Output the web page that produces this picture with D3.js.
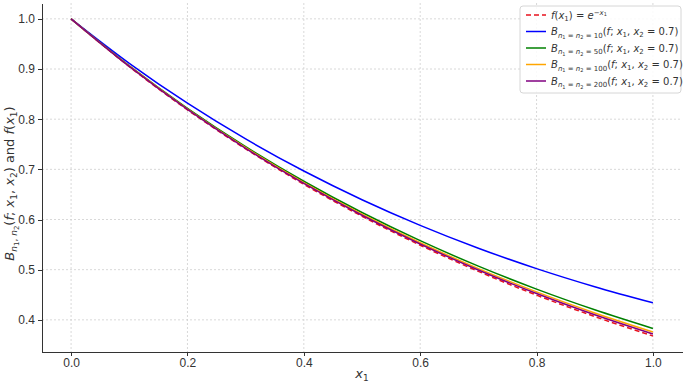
<!DOCTYPE html>
<html lang="en">
<head>
<meta charset="utf-8">
<title>Bernstein approximation</title>
<script src="https://cdn.jsdelivr.net/npm/d3@7"></script>
<style>
  body { margin: 0; background: #fff; }
  svg { font-family: "DejaVu Sans", sans-serif; }
  .axis path, .axis line { stroke: #333; shape-rendering: crispEdges; }
  .axis text { font-size: 12px; fill: #333; }
  .grid line { stroke: #cfcfcf; stroke-width: 0.8; stroke-dasharray: 2,2; }
</style>
</head>
<body>
<script>
// x1 sample points (read at 0.1 steps)
var xs = [0, 0.1, 0.2, 0.3, 0.4, 0.5, 0.6, 0.7, 0.8, 0.9, 1.0];

// curve values
var fExact = [1, 0.9048, 0.8187, 0.7408, 0.6703, 0.6065, 0.5488, 0.4966, 0.4493, 0.4066, 0.3679];
var bern10 = [1, 0.9114, 0.8319, 0.7606, 0.6967, 0.6395, 0.5884, 0.5428, 0.5021, 0.4660, 0.4339];
var bern50 = [1, 0.9063, 0.8217, 0.7453, 0.6763, 0.6140, 0.5578, 0.5071, 0.4613, 0.4201, 0.3829];
var bern100 = [1, 0.9056, 0.8203, 0.7432, 0.6735, 0.6105, 0.5536, 0.5022, 0.4557, 0.4138, 0.3759];
var bern200 = [1, 0.9052, 0.8195, 0.7420, 0.6719, 0.6085, 0.5512, 0.4994, 0.4525, 0.4102, 0.3719];

var xTicks = [0, 0.2, 0.4, 0.6, 0.8, 1.0];
var yTicks = [0.4, 0.5, 0.6, 0.7, 0.8, 0.9, 1.0];

var series = [
  {vals: fExact, color: "#e8121e", dash: "5,3", n: null},
  {vals: bern10, color: "#0000ff", dash: null, n: "10"},
  {vals: bern50, color: "#008000", dash: null, n: "50"},
  {vals: bern100, color: "#ffa500", dash: null, n: "100"},
  {vals: bern200, color: "#800080", dash: null, n: "200"}
];

var width = 685, height = 384;
var plotLeft = 42, plotRight = 682, plotTop = 3, plotBottom = 352;

var svg = d3.select("body").append("svg")
  .attr("width", width)
  .attr("height", height);

var xScale = d3.scaleLinear().domain([-0.05, 1.05]).range([plotLeft, plotRight]);
var yScale = d3.scaleLinear().domain([0.3359, 1.0316]).range([plotBottom, plotTop]);

// grid
svg.append("g").attr("class", "grid")
  .selectAll("line").data(xTicks).enter().append("line")
  .attr("x1", function(d) { return xScale(d); })
  .attr("x2", function(d) { return xScale(d); })
  .attr("y1", plotTop).attr("y2", plotBottom);
svg.append("g").attr("class", "grid")
  .selectAll("line").data(yTicks).enter().append("line")
  .attr("x1", plotLeft).attr("x2", plotRight)
  .attr("y1", function(d) { return yScale(d); })
  .attr("y2", function(d) { return yScale(d); });

// axes
var xAxis = d3.axisBottom(xScale).tickValues(xTicks).tickFormat(d3.format(".1f"))
  .tickSize(4).tickPadding(2).tickSizeOuter(0);
var yAxis = d3.axisLeft(yScale).tickValues(yTicks).tickFormat(d3.format(".1f"))
  .tickSize(4).tickPadding(3).tickSizeOuter(0);

svg.append("g").attr("class", "axis")
  .attr("transform", "translate(0," + plotBottom + ")")
  .call(xAxis);
svg.append("g").attr("class", "axis")
  .attr("transform", "translate(" + plotLeft + ",0)")
  .call(yAxis);
svg.selectAll(".axis .domain").attr("stroke-width", 1.2);

// lines
var line = d3.line()
  .x(function(d, i) { return xScale(xs[i]); })
  .y(function(d) { return yScale(d); })
  .curve(d3.curveMonotoneX);

svg.append("g").selectAll("path").data(series).enter().append("path")
  .attr("d", function(s) { return line(s.vals); })
  .attr("fill", "none")
  .attr("stroke", function(s) { return s.color; })
  .attr("stroke-width", 1.5)
  .attr("stroke-dasharray", function(s) { return s.dash; });

// axis labels
var xl = svg.append("text")
  .attr("x", xScale(0.5)).attr("y", 378)
  .attr("text-anchor", "middle")
  .attr("font-size", 13).attr("fill", "#333");
xl.append("tspan").attr("font-style", "italic").text("x");
xl.append("tspan").attr("font-size", 9).attr("dy", 3).text("1");

var yl = svg.append("text")
  .attr("transform", "translate(14," + ((plotTop + plotBottom) / 2 + 6) + ") rotate(-90)")
  .attr("text-anchor", "middle")
  .attr("font-size", 13).attr("fill", "#333");
yl.append("tspan").attr("font-style", "italic").text("B");
yl.append("tspan").attr("font-size", 9).attr("font-style", "italic").attr("dy", 3).text("n");
yl.append("tspan").attr("font-size", 7).attr("dy", 2).text("1");
yl.append("tspan").attr("font-size", 9).attr("dy", -2).text(", ");
yl.append("tspan").attr("font-size", 9).attr("font-style", "italic").text("n");
yl.append("tspan").attr("font-size", 7).attr("dy", 2).text("2");
yl.append("tspan").attr("dy", -5).text("(");
yl.append("tspan").attr("font-style", "italic").text("f");
yl.append("tspan").text("; ");
yl.append("tspan").attr("font-style", "italic").text("x");
yl.append("tspan").attr("font-size", 9).attr("dy", 3).text("1");
yl.append("tspan").attr("dy", -3).text(", ");
yl.append("tspan").attr("font-style", "italic").text("x");
yl.append("tspan").attr("font-size", 9).attr("dy", 3).text("2");
yl.append("tspan").attr("dy", -3).text(") and ");
yl.append("tspan").attr("font-style", "italic").text("f");
yl.append("tspan").text("(");
yl.append("tspan").attr("font-style", "italic").text("x");
yl.append("tspan").attr("font-size", 9).attr("dy", 3).text("1");
yl.append("tspan").attr("dy", -3).text(")");

// legend
var lg = svg.append("g").attr("transform", "translate(520,6)");
lg.append("rect")
  .attr("width", 161).attr("height", 87).attr("rx", 3)
  .attr("fill", "#fff").attr("fill-opacity", 0.85)
  .attr("stroke", "#d6d6d6");

series.forEach(function(s, i) {
  var yy = 9 + i * 16.5;
  lg.append("line")
    .attr("x1", 6).attr("x2", 26).attr("y1", yy).attr("y2", yy)
    .attr("stroke", s.color).attr("stroke-width", 1.5)
    .attr("stroke-dasharray", s.dash);
  var t = lg.append("text").attr("x", 31).attr("y", yy + 3.5)
    .attr("font-size", 10).attr("fill", "#333");
  if (s.n === null) {
    t.append("tspan").attr("font-style", "italic").text("f");
    t.append("tspan").text("(");
    t.append("tspan").attr("font-style", "italic").text("x");
    t.append("tspan").attr("font-size", 7).attr("dy", 2).text("1");
    t.append("tspan").attr("dy", -2).text(") = ");
    t.append("tspan").attr("font-style", "italic").text("e");
    t.append("tspan").attr("font-size", 7).attr("dy", -4).text("\u2212");
    t.append("tspan").attr("font-size", 7).attr("font-style", "italic").text("x");
    t.append("tspan").attr("font-size", 5).attr("dy", 1.5).text("1");
  } else {
    t.append("tspan").attr("font-style", "italic").text("B");
    t.append("tspan").attr("font-size", 7).attr("font-style", "italic").attr("dy", 2.5).text("n");
    t.append("tspan").attr("font-size", 5).attr("dy", 1.5).text("1");
    t.append("tspan").attr("font-size", 7).attr("dy", -1.5).text(" = ");
    t.append("tspan").attr("font-size", 7).attr("font-style", "italic").text("n");
    t.append("tspan").attr("font-size", 5).attr("dy", 1.5).text("2");
    t.append("tspan").attr("font-size", 7).attr("dy", -1.5).text(" = " + s.n);
    t.append("tspan").attr("dy", -2.5).text("(");
    t.append("tspan").attr("font-style", "italic").text("f");
    t.append("tspan").text("; ");
    t.append("tspan").attr("font-style", "italic").text("x");
    t.append("tspan").attr("font-size", 7).attr("dy", 2).text("1");
    t.append("tspan").attr("dy", -2).text(", ");
    t.append("tspan").attr("font-style", "italic").text("x");
    t.append("tspan").attr("font-size", 7).attr("dy", 2).text("2");
    t.append("tspan").attr("dy", -2).text(" = 0.7)");
  }
});
</script>
</body>
</html>
